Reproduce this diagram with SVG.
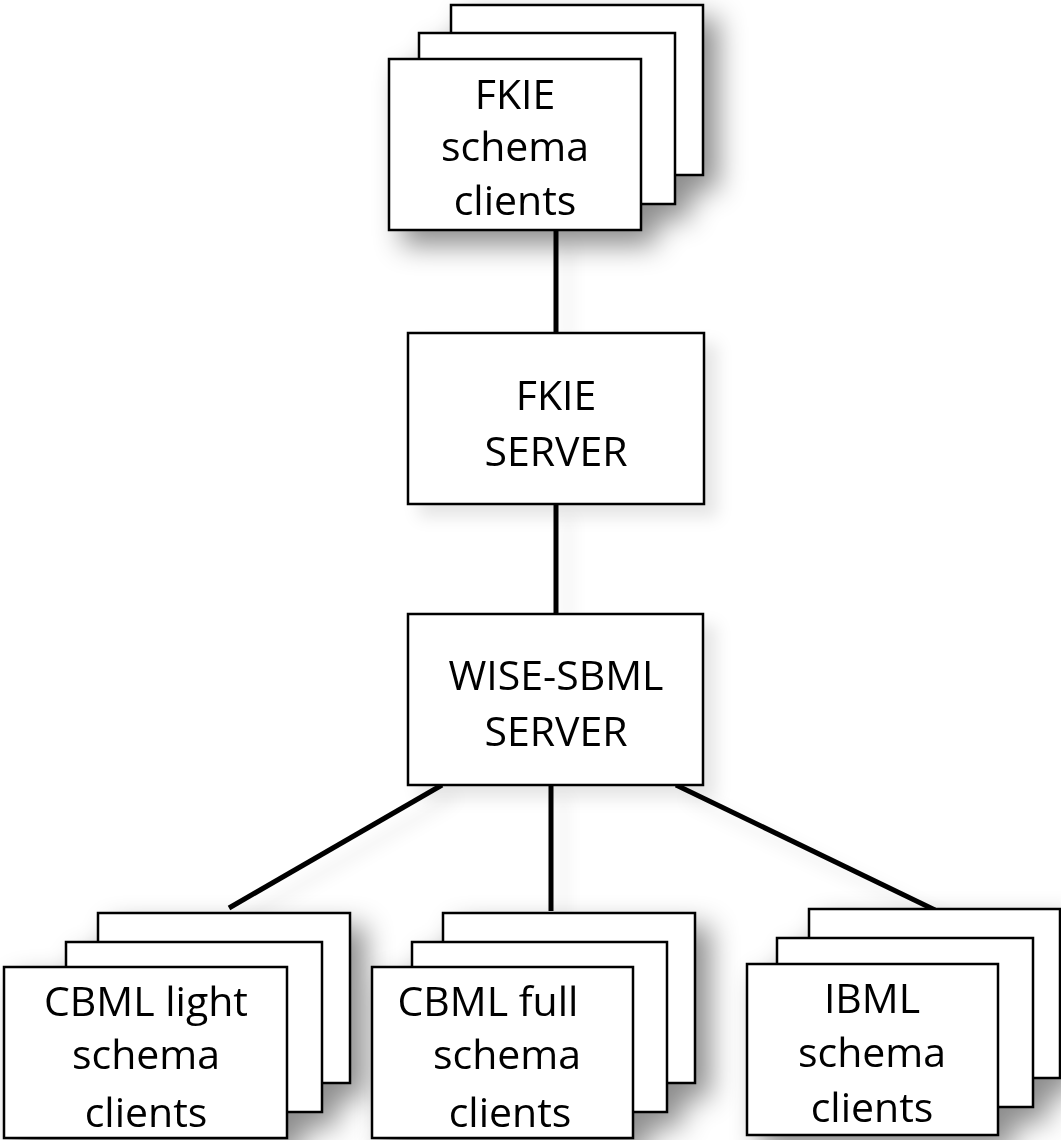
<svg xmlns="http://www.w3.org/2000/svg" width="1061" height="1140" viewBox="0 0 1061 1140">
  <defs>
    <filter id="stackShadow" x="-20%" y="-20%" width="160%" height="160%">
      <feGaussianBlur in="SourceAlpha" stdDeviation="14"/>
      <feOffset dx="14" dy="14" result="b"/>
      <feFlood flood-color="#000" flood-opacity="0.45"/>
      <feComposite in2="b" operator="in"/>
      <feMerge><feMergeNode/><feMergeNode in="SourceGraphic"/></feMerge>
    </filter>
    <filter id="softShadow" x="-20%" y="-20%" width="150%" height="150%">
      <feGaussianBlur in="SourceAlpha" stdDeviation="8"/>
      <feOffset dx="12" dy="12" result="b"/>
      <feFlood flood-color="#000" flood-opacity="0.1"/>
      <feComposite in2="b" operator="in"/>
      <feMerge><feMergeNode/><feMergeNode in="SourceGraphic"/></feMerge>
    </filter>
  </defs>
  <style>
    .box { fill: #ffffff; stroke: #000000; stroke-width: 2.5; }
    .lbl { font-family: "Open Sans", "Noto Sans", sans-serif; font-size: 41px; fill: #000000; text-anchor: middle; }
    .conn { stroke: #000000; stroke-width: 5; fill: none; }
  </style>
  <rect width="1061" height="1140" fill="#ffffff"/>

  <g id="connectors" filter="url(#softShadow)">
    <line class="conn" x1="556" y1="230" x2="556" y2="333"/>
    <line class="conn" x1="556" y1="504" x2="556" y2="614"/>
    <line class="conn" x1="442" y1="785" x2="229" y2="908"/>
    <line class="conn" x1="551" y1="785" x2="551" y2="911"/>
    <line class="conn" x1="676" y1="785" x2="935" y2="910"/>
  </g>

  <g id="fkie-clients" filter="url(#stackShadow)">
    <rect class="box" x="451" y="5" width="252" height="170"/>
    <rect class="box" x="419" y="33" width="256" height="171"/>
    <rect class="box" x="389" y="59" width="252" height="171"/>
    <text class="lbl" x="515" y="109">FKIE</text>
    <text class="lbl" x="515" y="161">schema</text>
    <text class="lbl" x="515" y="215">clients</text>
  </g>

  <g id="fkie-server" filter="url(#softShadow)">
    <rect class="box" x="408" y="333" width="296" height="171"/>
    <text class="lbl" x="556" y="410">FKIE</text>
    <text class="lbl" x="556" y="466">SERVER</text>
  </g>

  <g id="wise-sbml-server" filter="url(#softShadow)">
    <rect class="box" x="408" y="614" width="295" height="171"/>
    <text class="lbl" x="556" y="690">WISE-SBML</text>
    <text class="lbl" x="556" y="746">SERVER</text>
  </g>

  <g id="cbml-light-clients" filter="url(#stackShadow)">
    <rect class="box" x="98" y="913" width="252" height="170"/>
    <rect class="box" x="66" y="942" width="256" height="170"/>
    <rect class="box" x="4" y="967" width="283" height="171"/>
    <text class="lbl" x="146" y="1016">CBML light</text>
    <text class="lbl" x="146" y="1069">schema</text>
    <text class="lbl" x="146" y="1127">clients</text>
  </g>

  <g id="cbml-full-clients" filter="url(#stackShadow)">
    <rect class="box" x="443" y="913" width="252" height="170"/>
    <rect class="box" x="412" y="942" width="255" height="170"/>
    <rect class="box" x="372" y="967" width="261" height="171"/>
    <text class="lbl" x="488" y="1016">CBML full</text>
    <text class="lbl" x="507" y="1069">schema</text>
    <text class="lbl" x="510" y="1127">clients</text>
  </g>

  <g id="ibml-clients" filter="url(#stackShadow)">
    <rect class="box" x="809" y="909" width="251" height="169"/>
    <rect class="box" x="777" y="938" width="256" height="169"/>
    <rect class="box" x="747" y="964" width="251" height="171"/>
    <text class="lbl" x="872" y="1013">IBML</text>
    <text class="lbl" x="872" y="1067">schema</text>
    <text class="lbl" x="872" y="1122">clients</text>
  </g>
</svg>
